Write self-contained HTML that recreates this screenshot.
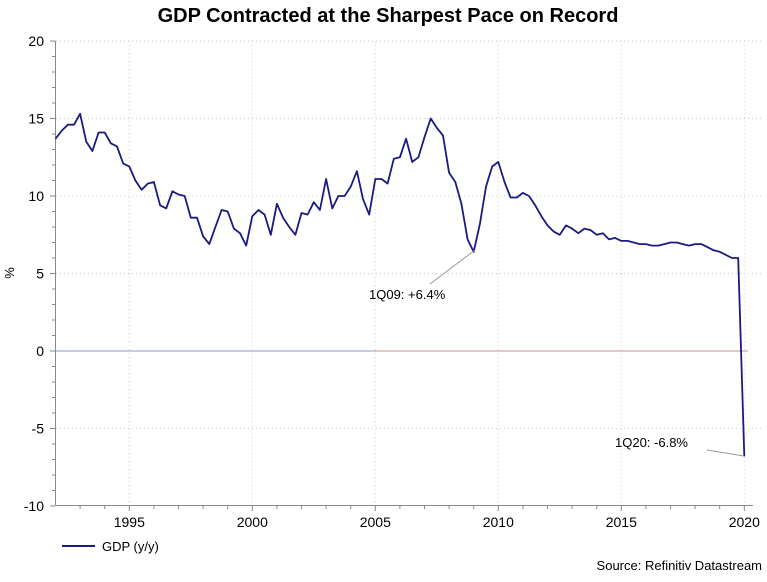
<!DOCTYPE html>
<html><head><meta charset="utf-8"><style>
body{margin:0;background:#fff;width:767px;height:577px;overflow:hidden;font-family:"Liberation Sans",Arial,sans-serif}
svg text{font-family:"Liberation Sans",Arial,sans-serif}
</style></head><body>
<svg id="chart" width="767" height="577" viewBox="0 0 767 577">
<text x="388" y="22" text-anchor="middle" font-size="20" font-weight="bold" fill="#000">GDP Contracted at the Sharpest Pace on Record</text>
<g id="grid"></g>
<g id="axes"></g>
<text x="14" y="273" text-anchor="middle" font-size="13" transform="rotate(-90 14 273)">%</text>
<g id="series"></g>
<line x1="430" y1="284" x2="475" y2="250" stroke="#999" stroke-width="1"/>
<text x="369" y="299" font-size="13">1Q09: +6.4%</text>
<line x1="707" y1="450" x2="744" y2="456" stroke="#999" stroke-width="1"/>
<text x="615" y="447" font-size="13">1Q20: -6.8%</text>
<g>
<line x1="62" y1="546" x2="95" y2="546" stroke="#1a1a80" stroke-width="2"/>
<text x="102" y="551" font-size="13">GDP (y/y)</text>
</g>
<text x="762" y="570" text-anchor="end" font-size="13">Source: Refinitiv Datastream</text>
</svg>
<script>
const startYear = 1992;
const gdpValues = [13.7,14.2,14.6,14.6,15.3,13.5,12.9,14.1,14.1,13.4,13.2,12.1,11.9,11.0,10.4,10.8,10.9,9.4,9.2,10.3,10.1,10.0,8.6,8.6,7.4,6.9,8.0,9.1,9.0,7.9,7.6,6.8,8.7,9.1,8.8,7.5,9.5,8.6,8.0,7.5,8.9,8.8,9.6,9.1,11.1,9.2,10.0,10.0,10.6,11.6,9.8,8.8,11.1,11.1,10.8,12.4,12.5,13.7,12.2,12.5,13.8,15.0,14.4,13.9,11.5,10.9,9.5,7.2,6.4,8.2,10.6,11.9,12.2,10.9,9.9,9.9,10.2,10.0,9.4,8.7,8.1,7.7,7.5,8.1,7.9,7.6,7.9,7.8,7.5,7.6,7.2,7.3,7.1,7.1,7.0,6.9,6.9,6.8,6.8,6.9,7.0,7.0,6.9,6.8,6.9,6.9,6.7,6.5,6.4,6.2,6.0,6.0,-6.8];
const yTicks = [20,15,10,5,0,-5,-10];
const xTicks = [1995,2000,2005,2010,2015,2020];
const NS='http://www.w3.org/2000/svg';
function xs(yr){return 55.5+(yr-1992)*24.6;}
function ys(v){return 351-v*15.5;}
function mk(tag,attrs,parent){const e=document.createElementNS(NS,tag);for(const k in attrs)e.setAttribute(k,attrs[k]);parent.appendChild(e);return e;}
const grid=document.getElementById('grid'),axes=document.getElementById('axes'),series=document.getElementById('series');
yTicks.forEach(v=>{
  if(v!==0&&v!==-10){const l=mk('line',{x1:56,x2:762,y1:ys(v),y2:ys(v),stroke:'#b8d8b0','stroke-dasharray':'1 3','stroke-width':1},grid);
  
  }
  const t=mk('text',{x:44,y:ys(v)+5,'text-anchor':'end','font-size':14},axes);t.textContent=v;
  
  
});
xTicks.forEach(yr=>{
  const l=mk('line',{x1:xs(yr),x2:xs(yr),y1:41,y2:505,stroke:'#e8c8c8','stroke-dasharray':'1 3','stroke-width':1},grid);
  
  
  const t=mk('text',{x:xs(yr),y:527,'text-anchor':'middle','font-size':14},axes);t.textContent=yr;
  
  
});
const z1=mk('line',{x1:56,x2:375,y1:ys(0),y2:ys(0),stroke:'#a0b0d0','stroke-width':1.2},grid);


const z2=mk('line',{x1:375,x2:748,y1:ys(0),y2:ys(0),stroke:'#d0a8a0','stroke-width':1.2},grid);


const ya=mk('line',{x1:55.5,x2:55.5,y1:41,y2:505,stroke:'#888','stroke-width':1},axes);


const xa=mk('line',{x1:55.5,x2:753,y1:505.5,y2:505.5,stroke:'#888','stroke-width':1},axes);


for(let v=-10;v<=20;v++){const l=mk('line',{x1:v%5===0?50:52,x2:55.5,y1:ys(v),y2:ys(v),stroke:'#888','stroke-width':1},axes);
  
  }
for(let yr=1993;yr<=2020;yr++){const l=mk('line',{x1:xs(yr),x2:xs(yr),y1:505,y2:yr%5===0?511:509,stroke:'#888','stroke-width':1},axes);
  
  }
const pts=gdpValues.map((v,i)=>xs(startYear+i/4).toFixed(1)+','+ys(v).toFixed(1)).join(' ');
const pl=mk('polyline',{points:pts,fill:'none',stroke:'#1a1a80','stroke-width':1.8,'stroke-linejoin':'round'},series);


</script>
</body></html>
